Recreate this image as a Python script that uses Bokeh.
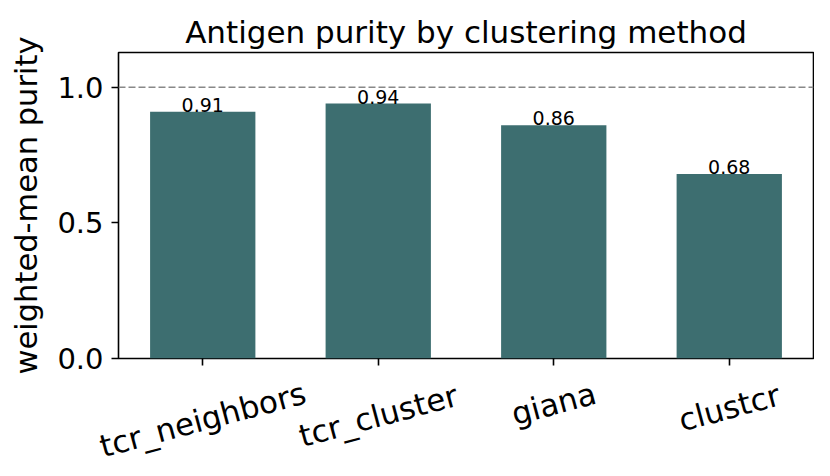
import math
from bokeh.plotting import figure
from bokeh.layouts import column
from bokeh.models import (ColumnDataSource, Range1d, FixedTicker, PrintfTickFormatter,
                          LabelSet, Span)
from bokeh.core.properties import value
from bokeh.embed import file_html
from bokeh.resources import INLINE

# ---- data ----
methods = ["tcr_neighbors", "tcr_cluster", "giana", "clustcr"]
purity = [0.91, 0.94, 0.86, 0.68]
y_ticks = [0.0, 0.5, 1.0]

# ---- style / layout ----
FONT = "DejaVu Sans"
BAR_COLOR = "#3d6e70"
TICK_FS = 29
XL_FS = 31
ANG = math.radians(15)
W = 814
LEFT, RIGHT, TOP = 118, 1, 52
MAIN_H, MAIN_BOTTOM = 376, 18
LAB_H = 460 - MAIN_H
X0, X1 = -0.48, 3.48

idx = list(range(len(methods)))

p = figure(width=W, height=MAIN_H, output_backend="svg", toolbar_location=None,
           x_range=Range1d(X0, X1), y_range=Range1d(0, 1.128),
           min_border_left=LEFT, min_border_right=RIGHT, min_border_top=TOP,
           min_border_bottom=MAIN_BOTTOM)

p.title.text = "Antigen purity by clustering method"
p.title.align = "center"
p.title.text_font = FONT
p.title.text_font_size = "31px"
p.title.text_font_style = "normal"
p.title.text_color = "black"
p.title.standoff = 6

p.grid.visible = False
p.background_fill_color = "white"
p.border_fill_color = "white"
p.outline_line_color = "black"
p.outline_line_width = 1.6

src = ColumnDataSource(dict(x=idx, top=purity,
                            lab=["%.2f" % v for v in purity]))
p.vbar(x="x", top="top", width=0.6, source=src, fill_color=BAR_COLOR,
       line_color=None)

p.add_layout(Span(location=1.0, dimension="width", line_color="#888888",
                  line_width=1.4, line_dash="7 3"))

p.add_layout(LabelSet(x="x", y="top", text="lab", source=src,
                      text_align="center", text_baseline="bottom",
                      text_font_size="19px", text_font=value(FONT),
                      text_color="black"))

# y axis
ya = p.yaxis[0]
ya.ticker = FixedTicker(ticks=y_ticks)
ya.formatter = PrintfTickFormatter(format="%.1f")
ya.axis_label = "weighted-mean purity"
ya.axis_label_text_font = FONT
ya.axis_label_text_font_size = "30.5px"
ya.axis_label_text_font_style = "normal"
ya.axis_label_text_color = "black"
ya.axis_label_standoff = 10
ya.major_label_text_font = FONT
ya.major_label_text_font_size = "%dpx" % TICK_FS
ya.major_label_text_color = "black"
ya.major_label_standoff = 8
ya.major_tick_out = 7
ya.major_tick_in = 0
ya.major_tick_line_width = 1.6
ya.major_tick_line_color = "black"
ya.minor_tick_line_color = None
ya.axis_line_color = None

# x axis: ticks only (labels drawn rotated and centred below)
xa = p.xaxis[0]
xa.ticker = FixedTicker(ticks=idx)
xa.major_label_overrides = {i: "" for i in idx}
xa.major_label_text_font_size = "0px"
xa.major_label_standoff = 0
xa.major_tick_out = 7
xa.major_tick_in = 0
xa.major_tick_line_width = 1.6
xa.major_tick_line_color = "black"
xa.minor_tick_line_color = None
xa.axis_line_color = None

# label strip, same x scale as the main frame but spanning the full width
k = (W - LEFT - RIGHT) / (X1 - X0)
q = figure(width=W, height=LAB_H, output_backend="svg", toolbar_location=None,
           x_range=Range1d(X0 - LEFT / k, X1 + RIGHT / k),
           y_range=Range1d(0, LAB_H),
           min_border_left=0, min_border_right=0, min_border_top=0,
           min_border_bottom=0)
q.axis.visible = False
q.grid.visible = False
q.outline_line_color = None
q.background_fill_color = "white"
q.border_fill_color = "white"
for fig in (p, q):
    try:
        fig.frame_align = False
    except Exception:
        pass

ys = []
for m in methods:
    w = len(m) * 0.5 * XL_FS
    h = 1.0 * XL_FS
    ys.append(LAB_H - (2 + (w * math.sin(ANG) + h * math.cos(ANG)) / 2))
xsrc = ColumnDataSource(dict(x=idx, y=ys, t=methods))
q.text(x="x", y="y", text="t", source=xsrc, angle=ANG,
       text_align="center", text_baseline="middle",
       text_font=value(FONT), text_font_size=value("%dpx" % XL_FS),
       text_color="black")

layout = column(p, q, spacing=0)
open("out.html", "w").write(file_html(layout, INLINE))
